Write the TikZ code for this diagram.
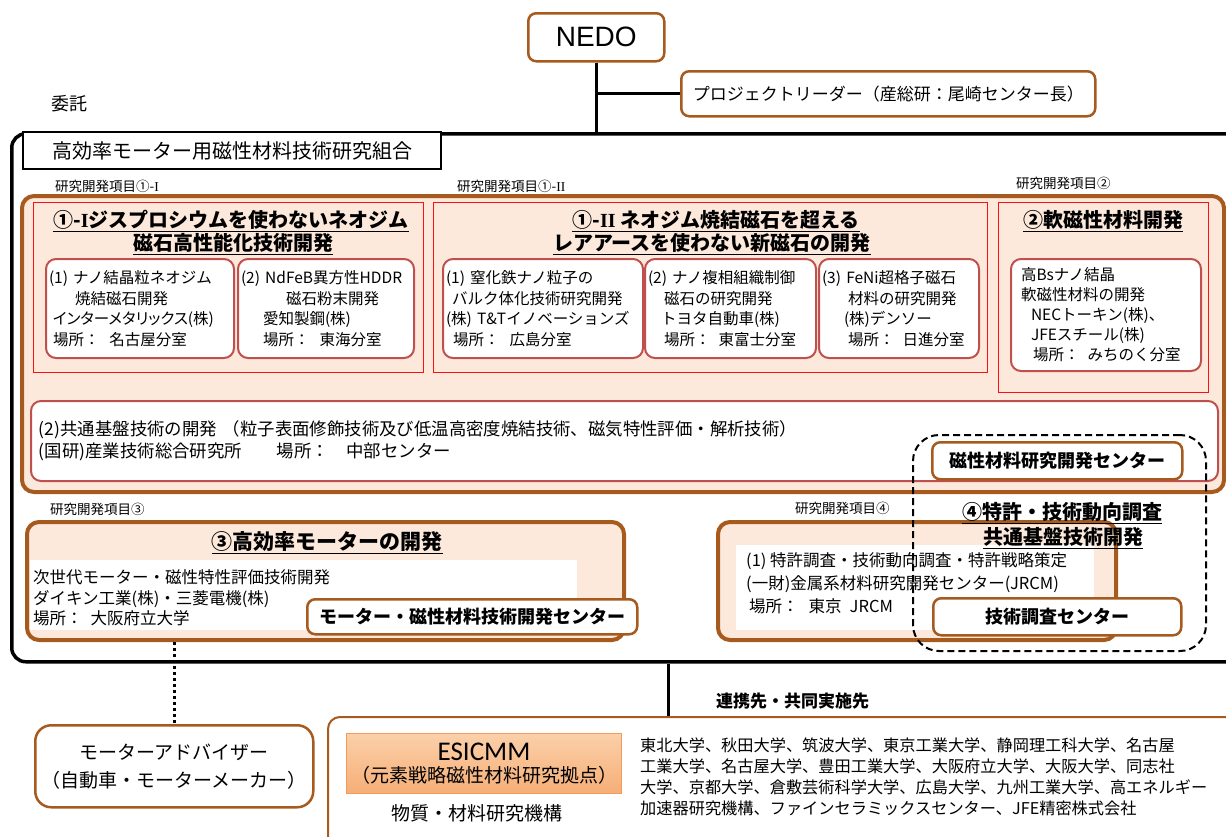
\documentclass[tikz,border=0pt]{standalone}
\usepackage{fontspec}
\setmainfont{Noto Sans CJK JP}
\newfontfamily\pj[RawFeature=+palt]{Noto Sans CJK JP}
\newfontfamily\arialf{Liberation Sans}
\newfontfamily\carl{Carlito}
\newfontfamily\serifr{Liberation Serif}
\newcommand{\fsz}[2]{\fontsize{#1}{#2}\selectfont}
\definecolor{brownC}{HTML}{A65A1E}
\definecolor{peach}{HTML}{FCE9DC}
\definecolor{redC}{HTML}{FF1010}
\definecolor{subred}{HTML}{C0504D}
\definecolor{esiTop}{HTML}{FBD0AA}
\definecolor{esiBot}{HTML}{F6AE76}
\definecolor{esiLine}{HTML}{F39C5A}
\tikzset{
 brbox/.style={draw=brownC, line width=2.5pt, fill=white, rounded corners=8pt, inner sep=0pt, anchor=north west},
 obox/.style={draw=brownC, line width=4pt, fill=peach, rounded corners=12pt, inner sep=0pt, anchor=north west},
 rbox/.style={draw=redC, line width=1pt, inner sep=0pt, anchor=north west},
 sub/.style={draw=subred, line width=2pt, fill=white, rounded corners=10pt, inner xsep=3pt, inner ysep=0pt, anchor=north west, align=left, font=\fsz{15.5}{20.5}},
 ttl/.style={font=\bfseries\fsz{20}{22}, inner sep=0pt},
 lbl/.style={font=\fsz{13.5}{15}, inner sep=0pt, anchor=west},
 ctr/.style={brbox, font=\bfseries\fsz{18}{20}},
 conn/.style={line width=3pt, draw=black},
 whitebg/.style={fill=white, draw=none, inner sep=0pt, anchor=north west},
}
\begin{document}
\begin{tikzpicture}[x=1pt,y=-1pt]
\useasboundingbox (0,0) rectangle (1226,836);
\fill[white] (0,0) rectangle (1226,836);

% ---- top
\node[brbox, minimum width=136, minimum height=48, font=\arialf\fsz{28}{30}] (nedo) at (527,12) {NEDO};
\node[brbox, minimum width=414, minimum height=45, font=\fsz{17}{20}] (leader) at (680,70) {プロジェクトリーダー（産総研：尾崎センター長）};
\node[font=\fsz{18}{20}, inner sep=0pt] (itaku) at (69,104) {委託};

% ---- big frame
\node[draw=black, line width=3.5pt, rounded corners=14pt, minimum width=1260, minimum height=528, inner sep=0pt, anchor=north west] (big) at (10,132) {};
\draw[conn] (nedo.south) -- (nedo.south |- big.north);
\draw[conn] (nedo.south |- leader.west) -- (leader.west);
\node[draw=black, line width=2pt, fill=white, minimum width=418, minimum height=37, anchor=north west, inner sep=0pt, font=\fsz{20}{22}] (kumiai) at (22,131) {高効率モーター用磁性材料技術研究組合};

\node[lbl] (l1) at (55,186) {研究開発項目①-{\serifr I}};
\node[lbl] (l2) at (457,186) {研究開発項目①-{\serifr II}};
\node[lbl] (l3) at (1016,183) {研究開発項目②};

% ---- orange main
\node[obox, minimum width=1202, minimum height=296] (o1) at (20,194) {};
\node[rbox, minimum width=390, minimum height=170] (r1) at (33,202) {};
\node[rbox, minimum width=554, minimum height=170] (r2) at (433,202) {};
\node[rbox, minimum width=210, minimum height=190] (r3) at (998,202) {};

\node[ttl] (t1a) at (231,221) {\underline{①-{\serifr\bfseries I}ジスプロシウムを使わないネオジム}};
\node[ttl] (t1b) at (233,244) {\underline{磁石高性能化技術開発}};
\node[ttl] (t2a) at (716,221) {\underline{①-{\serifr\bfseries II} ネオジム焼結磁石を超える}};
\node[ttl] (t2b) at (712,244) {\underline{レアアースを使わない新磁石の開発}};
\node[ttl] (t3) at (1103,221) {\underline{②軟磁性材料開発}};

\node[sub, text width=182, minimum height=99] (s11) at (45,258)
 {(1) ナノ結晶粒ネオジム\\\hspace*{26pt}焼結磁石開発\\\hspace*{4pt}{\pj インターメタリックス(株)}\\\hspace*{4pt}場所：\hspace{10pt}名古屋分室};
\node[sub, text width=170, minimum height=99] (s12) at (237,258)
 {(2) NdFeB異方性HDDR\\\hspace*{45pt}磁石粉末開発\\\hspace*{22pt}愛知製鋼(株)\\\hspace*{22pt}場所：\hspace{10pt}東海分室};
\node[sub, text width=194, minimum height=99] (s21) at (442,258)
 {(1) 窒化鉄ナノ粒子の\\\hspace*{6pt}バルク体化技術研究開発\\(株) T\&Tイノベーションズ\\\hspace*{7pt}場所：\hspace{10pt}広島分室};
\node[sub, text width=165, minimum height=99] (s22) at (644,258)
 {(2) ナノ複相組織制御\\\hspace*{16pt}磁石の研究開発\\\hspace*{13pt}トヨタ自動車(株)\\\hspace*{16pt}場所：\hspace{8pt}東富士分室};
\node[sub, text width=154, minimum height=99] (s23) at (818,258)
 {(3) FeNi超格子磁石\\\hspace*{26pt}材料の研究開発\\\hspace*{22pt}(株)デンソー\\\hspace*{26pt}場所：\hspace{8pt}日進分室};
\node[sub, text width=184, minimum height=112, font=\fsz{15.5}{20}] (s3) at (1010,258)
 {\hspace*{7pt}高Bsナノ結晶\\\hspace*{7pt}軟磁性材料の開発\\\hspace*{17pt}NECトーキン(株)、\\\hspace*{17pt}JFEスチール(株)\\\hspace*{19pt}場所：\hspace{8pt}みちのく分室};

\node[sub, text width=1181, minimum height=80, font=\fsz{17.4}{22}] (kyotsu) at (30,400)
 {\hspace*{5pt}(2)共通基盤技術の開発 （粒子表面修飾技術及び低温高密度焼結技術、磁気特性評価・解析技術）\\\hspace*{5pt}(国研)産業技術総合研究所\hspace{2em}場所：\hspace{1em}中部センター};
\node[ctr, minimum width=250, minimum height=37] (c1) at (931,441) {磁性材料研究開発センター};

% ---- item 3
\node[lbl] (l4) at (50,509) {研究開発項目③};
\node[obox, minimum width=597, minimum height=118] (b3) at (25,520) {};
\node[ttl, font=\bfseries\fsz{21}{23}] (t4) at (327,543) {\underline{③高効率モーターの開発}};
\node[whitebg, minimum width=547, minimum height=70] (w3) at (30,560) {};
\node[inner sep=0pt, anchor=west, align=left, font=\fsz{16.5}{20.5}] (t4b) at (33,598)
 {次世代モーター・磁性特性評価技術開発\\ダイキン工業(株)・三菱電機(株)\\場所：\hspace{8pt}大阪府立大学};
\node[ctr, minimum width=330, minimum height=35] (c2) at (306,598) {モーター・磁性材料技術開発センター};

% ---- item 4
\node[lbl] (l5) at (795,508) {研究開発項目④};
\node[obox, minimum width=398, minimum height=118] (b4) at (716,520) {};
\node[whitebg, minimum width=358, minimum height=85] (w4) at (736,545) {};
\node[inner sep=0pt, anchor=west, align=left, font=\fsz{16.5}{23}] (t5b) at (746,583)
 {(1) 特許調査・技術動向調査・特許戦略策定\\(一財)金属系材料研究開発センター(JRCM)\\\hspace*{3pt}場所：\hspace{10pt}東京\hspace{8pt}JRCM};
\node[ttl] (t5a) at (1062,513) {\underline{④特許・技術動向調査}};
\node[ttl] (t5c) at (1063,538) {\underline{共通基盤技術開発}};
\node[ctr, minimum width=248, minimum height=37] (c3) at (932,597) {技術調査センター};

\node[draw=black, line width=2pt, dash pattern=on 7pt off 4pt, rounded corners=26pt, minimum width=293, minimum height=216, inner sep=0pt, anchor=north west] (dash) at (912,434) {};

% ---- bottom
\node[brbox, rounded corners=12pt, line width=2pt, minimum width=950, minimum height=160] (collab) at (327,716) {};
\coordinate (vx) at (668,690);
\draw[conn] (vx |- big.south) -- (vx |- collab.north);
\node[inner sep=0pt, anchor=west, font=\bfseries\fsz{17}{20}] (renkei) at (716,701) {連携先・共同実施先};

\node[draw=esiLine, line width=1pt, top color=esiTop, bottom color=esiBot, minimum width=275, minimum height=60, inner sep=0pt, anchor=north west, align=center] (esi) at (346,733)
 {{\carl\fsz{27}{27}ESICMM}\\[4pt]{\fsz{19}{21}（元素戦略磁性材料研究拠点）}};
\node[inner sep=0pt, font=\fsz{19}{21}] (nims) at (477,813) {物質・材料研究機構};
\node[inner sep=0pt, anchor=west, align=left, font=\fsz{16.2}{21}] (list) at (640,777)
 {東北大学、秋田大学、筑波大学、東京工業大学、静岡理工科大学、名古屋\\工業大学、名古屋大学、豊田工業大学、大阪府立大学、大阪大学、同志社\\大学、京都大学、倉敷芸術科学大学、広島大学、九州工業大学、高エネルギー\\加速器研究機構、ファインセラミックスセンター、JFE精密株式会社};

\node[brbox, rounded corners=16pt, minimum width=278, minimum height=82, align=center, font=\fsz{19}{28}] (adv) at (34,724) {モーターアドバイザー\\（自動車・モーターメーカー）};
\draw[line width=3pt, dash pattern=on 3pt off 3pt] (b3.south -| adv.north) -- (adv.north);
\end{tikzpicture}
\end{document}
